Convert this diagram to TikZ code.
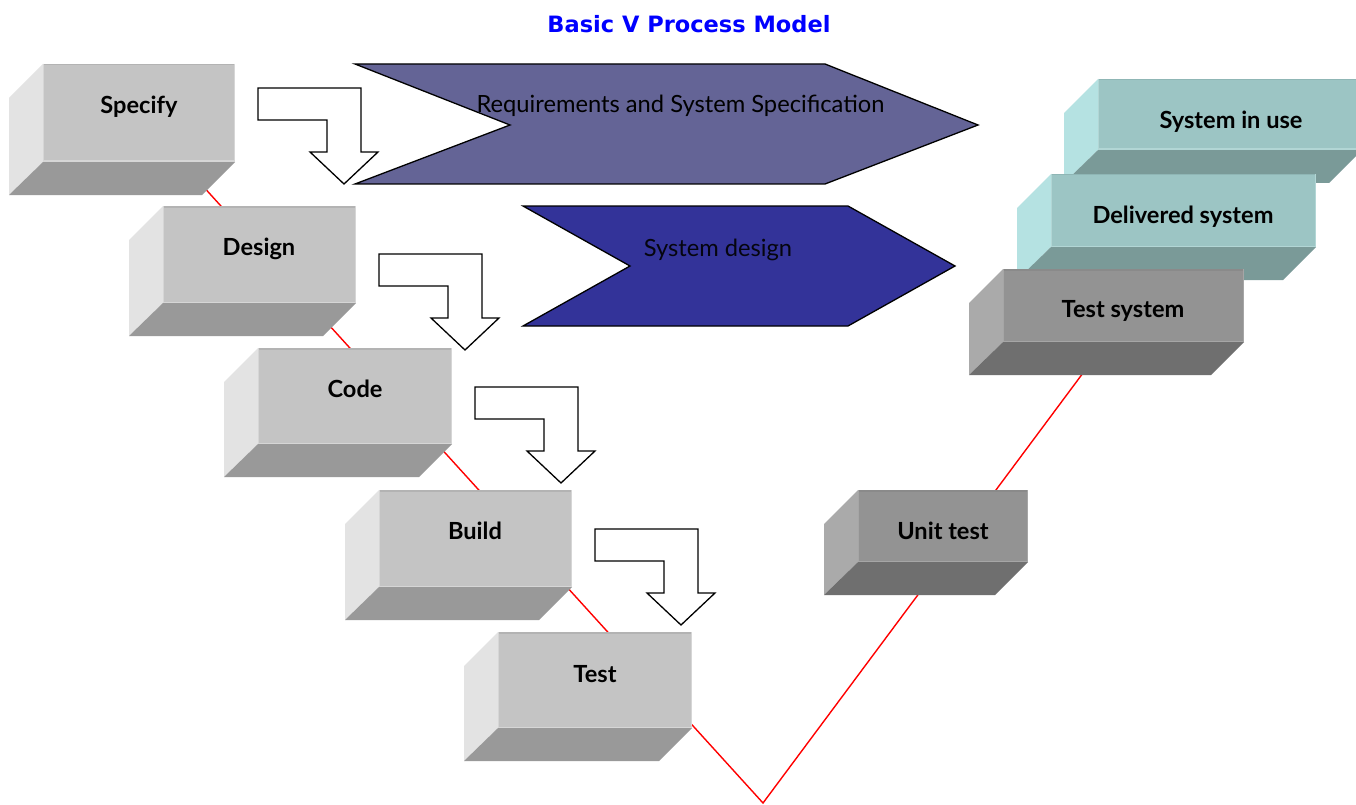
\documentclass[tikz,border=0pt]{standalone}
\usepackage{fontspec}
\setmainfont{Lato}
\newfontfamily\titlefont{DejaVu Sans}
\definecolor{gfront}{HTML}{C4C4C4}
\definecolor{gside}{HTML}{E3E3E3}
\definecolor{gbot}{HTML}{999999}
\definecolor{gtop}{HTML}{B3B3B3}
\definecolor{glight}{HTML}{D6D6D6}
\definecolor{dfront}{HTML}{939393}
\definecolor{dside}{HTML}{AAAAAA}
\definecolor{dbot}{HTML}{6F6F6F}
\definecolor{dtop}{HTML}{8A8A8A}
\definecolor{dlight}{HTML}{A6A6A6}
\definecolor{tfront}{HTML}{9CC5C4}
\definecolor{tside}{HTML}{B5E2E2}
\definecolor{tbot}{HTML}{7A9A98}
\definecolor{ttop}{HTML}{8FB6B5}
\definecolor{tlight}{HTML}{B2D6D5}
\definecolor{reqcol}{HTML}{646496}
\definecolor{descol}{HTML}{333399}
\definecolor{titleblue}{HTML}{0000FF}
\tikzset{
  boxlabel/.style={font=\fontsize{23.6}{28}\selectfont\bfseries, inner sep=0pt, anchor=base},
  chevlabel/.style={font=\fontsize{23.7}{28}\selectfont, inner sep=0pt, anchor=base},
  chevron/.style={draw=black, line width=1.3pt, line join=miter},
  bentarrow/.style={draw=black, fill=white, line width=1.3pt, line join=miter},
  vline/.style={draw=red, line width=1.4pt},
}
% #1 name, #2 x1, #3 y1, #4 x2, #5 y2, #6 colour prefix, #7 label, #8 label x, #9 label baseline y
\newcommand\vcube[9]{%
  \fill[#6side] (#2,#3) -- (#2-34,#3+34) -- (#2-34,#5+33) -- (#2,#5) -- cycle;
  \fill[#6bot] (#2,#5) -- (#4,#5) -- (#4-33,#5+33) -- (#2-34,#5+33) -- cycle;
  \fill[#6front] (#2,#3) rectangle (#4,#5);
  \draw[#6top, line width=1.5pt] (#2,#3+0.75) -- (#4,#3+0.75);
  \draw[#6light, line width=1.5pt] (#4-0.75,#3) -- (#4-0.75,#5) (#2,#5-0.75) -- (#4,#5-0.75);
  \draw[#6light, line width=1pt] (#2+0.5,#3) -- (#2+0.5,#5);
  \node[boxlabel] (#1) at (#8,#9) {#7};
}
% bent arrow with top-left corner at (#2,#3)
\newcommand\bentarrow[3]{%
  \draw[bentarrow] (#2,#3) coordinate (#1)
    -- ++(103,0) -- ++(0,64) -- ++(17,0) -- ++(-34,32) -- ++(-34,-32)
    -- ++(17,0) -- ++(0,-32) -- ++(-69,0) -- cycle;
}
\begin{document}
\begin{tikzpicture}[x=1pt, y=-1pt]
\useasboundingbox (0,0) rectangle (1356,805);
\fill[white] (0,0) rectangle (1356,805);

% title
\node[font=\titlefont\fontsize{22.5}{27}\selectfont\bfseries, text=titleblue, inner sep=0pt, anchor=base] (title) at (689,33) {Basic V Process Model};

% the V line
\coordinate (vstart) at (161,140);
\coordinate (vbottom) at (763,803);
\coordinate (vend) at (1115,330);
\draw[vline] (vstart) -- (vbottom) -- (vend);

% chevrons
\draw[chevron, fill=reqcol] (355,64) coordinate (reqA) -- (825,64) -- (978,125) -- (825,184) -- (355,184) -- (510,125) -- cycle;
\node[chevlabel] (req) at (680.5,113) {Requirements and System Specification};
\draw[chevron, fill=descol] (523,206) coordinate (desA) -- (848,206) -- (955,266) -- (848,326) -- (523,326) -- (630,266) -- cycle;
\node[chevlabel, text=black!90!descol] (sysdes) at (718,256) {System design};

% bent arrows
\bentarrow{arr1}{258}{88}
\bentarrow{arr2}{379}{254}
\bentarrow{arr3}{475}{387}
\bentarrow{arr4}{595}{529}

% left boxes
\vcube{specify}{43}{64}{235}{162}{g}{Specify}{139}{114}
\vcube{design}{163}{206}{356}{303}{g}{Design}{259}{255}
\vcube{code}{258}{348}{452}{444}{g}{Code}{355}{397}
\vcube{build}{379}{490}{572}{587}{g}{Build}{475}{539}
\vcube{test}{498}{632}{692}{728}{g}{Test}{595}{682}

% right boxes
\vcube{unittest}{858}{490}{1028}{562}{d}{Unit test}{943}{539}
\vcube{inuse}{1098}{79}{1362}{150}{t}{System in use}{1231}{129}
\vcube{delivered}{1051}{174}{1316}{247}{t}{Delivered system}{1183}{223}
\vcube{testsys}{1003}{269}{1244}{342}{d}{Test system}{1123}{317}
\end{tikzpicture}
\end{document}
